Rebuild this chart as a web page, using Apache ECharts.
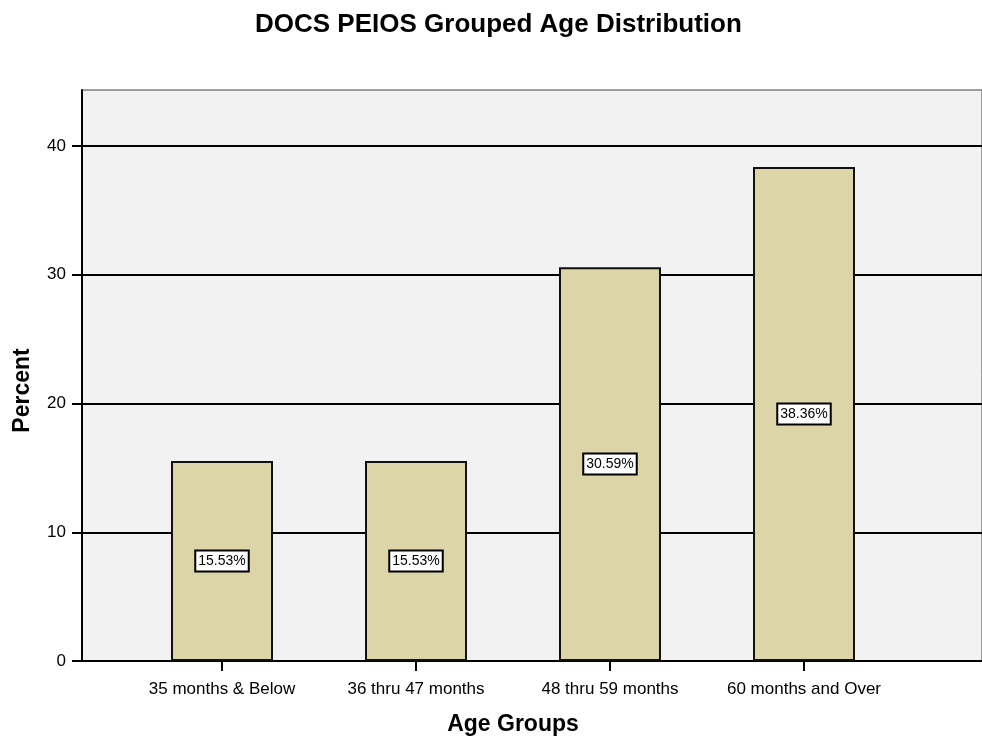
<!DOCTYPE html>
<html>
<head>
<meta charset="utf-8">
<script src="https://cdn.jsdelivr.net/npm/echarts@6/dist/echarts.min.js"></script>
<style>
  html, body { margin: 0; padding: 0; background: #ffffff; }
  #chart { width: 982px; height: 740px; }
</style>
</head>
<body>
<div id="chart"></div>
<script>
// Age group categories and their share of cases (percent)
var categories = ['35 months & Below', '36 thru 47 months', '48 thru 59 months', '60 months and Over'];
var percents = [15.53, 15.53, 30.59, 38.36];
var yTicks = [0, 10, 20, 30, 40];

var FONT = '"Liberation Sans", Arial, sans-serif';
var Y_MAX = 44.35;

var chart = echarts.init(document.getElementById('chart'), null, { renderer: 'canvas' });

chart.setOption({
  animation: false,
  backgroundColor: '#ffffff',
  title: {
    text: 'DOCS PEIOS Grouped Age Distribution',
    left: 250,
    top: 7,
    textStyle: { fontFamily: FONT, fontSize: 26, fontWeight: 'bold', color: '#000' }
  },
  grid: [
    // frame, gridlines and value axis
    { left: 82, right: 0, top: 90, bottom: 79, outerBoundsMode: 'none', containLabel: false,
      show: true, backgroundColor: '#f2f2f2', borderColor: '#444', borderWidth: 1 },
    // bars and category axis
    { left: 125, right: 81, top: 90, bottom: 79, outerBoundsMode: 'none', containLabel: false }
  ],
  xAxis: [
    {
      gridIndex: 0, type: 'value', min: 0, max: 1,
      axisLine: { show: true, onZero: false, lineStyle: { color: '#000', width: 2 } },
      axisTick: { show: false }, axisLabel: { show: false }, splitLine: { show: false }
    },
    {
      gridIndex: 1, type: 'category', data: categories,
      axisLine: { show: false },
      axisTick: { show: true, interval: 0, alignWithLabel: true, length: 10, lineStyle: { color: '#000', width: 2 } },
      axisLabel: { interval: 0, hideOverlap: false, fontFamily: FONT, fontSize: 17, color: '#000', margin: 20 },
      name: 'Age Groups', nameLocation: 'middle', nameGap: 52,
      nameTextStyle: { fontFamily: FONT, fontSize: 23, fontWeight: 'bold', color: '#000' }
    }
  ],
  yAxis: [
    {
      gridIndex: 0, type: 'value', min: 0, max: Y_MAX, interval: 10,
      axisLine: { show: true, lineStyle: { color: '#000', width: 2 } },
      axisTick: { show: true, length: 10, customValues: yTicks, lineStyle: { color: '#000', width: 2 } },
      axisLabel: {
        fontFamily: FONT, fontSize: 17, color: '#000', margin: 16,
        customValues: yTicks
      },
      splitLine: { show: true, lineStyle: { color: '#000', width: 2 } },
      name: 'Percent', nameLocation: 'middle', nameGap: 48,
      nameTextStyle: { fontFamily: FONT, fontSize: 23, fontWeight: 'bold', color: '#000', padding: [0, 30, 0, 0] }
    },
    {
      gridIndex: 1, type: 'value', min: 0, max: Y_MAX, show: false
    }
  ],
  series: [
    {
      type: 'bar',
      xAxisIndex: 1, yAxisIndex: 1,
      data: percents,
      barWidth: 102,
      itemStyle: { color: '#dbd5a7', borderColor: '#111', borderWidth: 2 },
      label: {
        show: true,
        position: 'inside',
        formatter: function (p) { return p.value.toFixed(2) + '%'; },
        fontFamily: FONT, fontSize: 14, color: '#000',
        backgroundColor: '#fff', borderColor: '#000', borderWidth: 2,
        padding: [3, 2, 2, 2]
      }
    }
  ]
});
</script>
</body>
</html>
